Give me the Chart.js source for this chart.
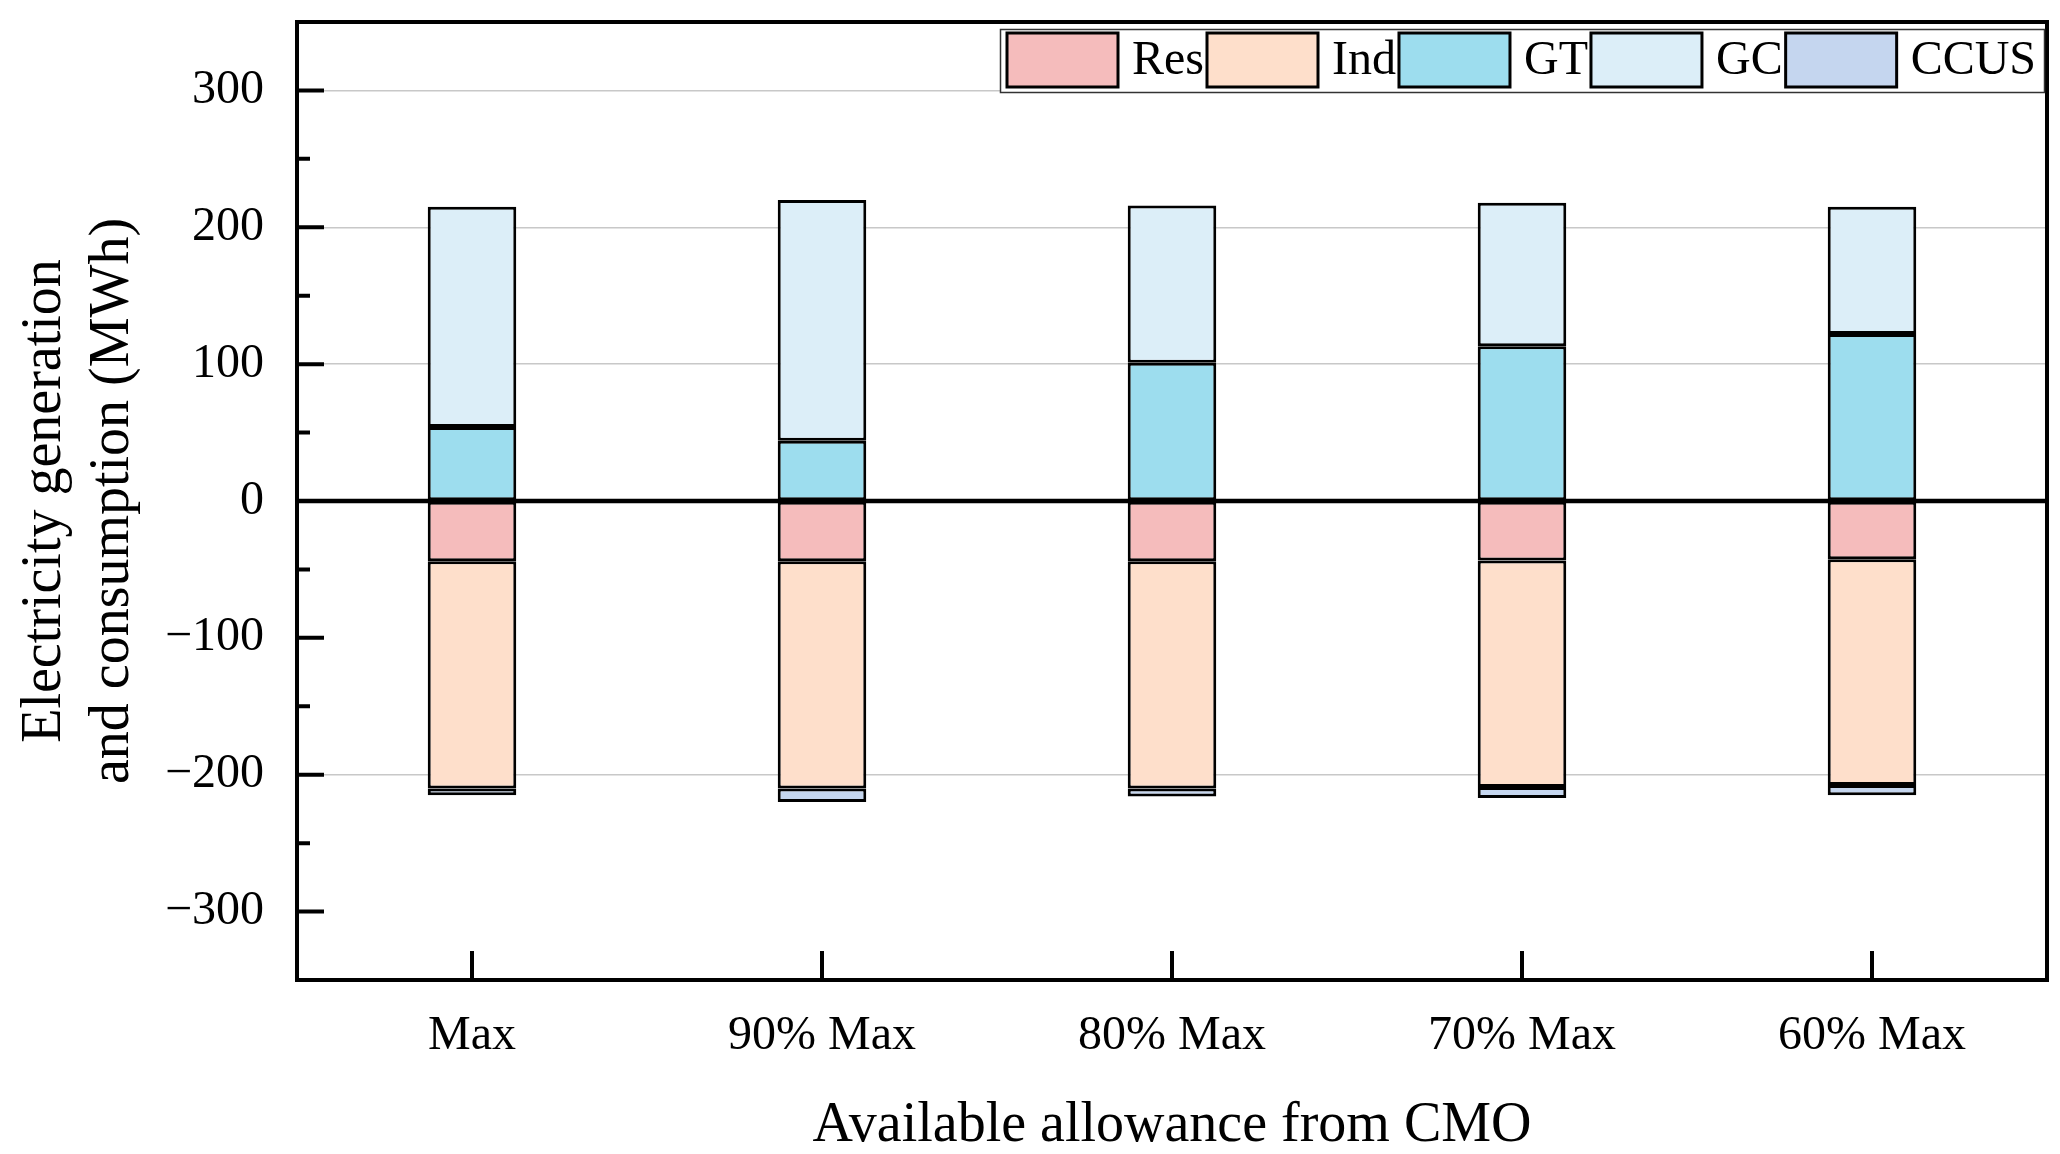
<html>
<head>
<script src="https://cdn.jsdelivr.net/npm/chart.js@4.4.0/dist/chart.umd.min.js"></script>
<style>body{margin:0;background:#fff}</style>
</head>
<body>
<canvas id="myChart" width="2060" height="1154"></canvas>
<script>
var labels = ['Max', '90% Max', '80% Max', '70% Max', '60% Max'];
var res  = [-44, -44, -44, -43.5, -42.5];
var ind  = [-166, -166, -166, -165.5, -165];
var gt   = [54, 44, 101, 113, 122];
var gc   = [161, 176, 115, 105, 93];
var ccus = [-5, -10, -6, -8, -7.5];
var yTicks = [-300, -200, -100, 0, 100, 200, 300];
var serif = '"Liberation Serif", "Times New Roman", serif';

function bar(label, data, color) {
  return {
    label: label, data: data, backgroundColor: color,
    borderColor: '#000', borderWidth: 3, borderSkipped: false,
    barPercentage: 0.253, categoryPercentage: 1
  };
}

// frame, inward ticks, zero line and framed legend
var decor = {
  id: 'decor',
  afterDatasetsDraw: function(chart) {
    var c = chart.ctx, a = chart.chartArea, y = chart.scales.y;
    var y0 = y.getPixelForValue(0);
    c.save();
    c.strokeStyle = '#000';
    c.lineWidth = 4.5;
    c.beginPath(); c.moveTo(a.left, y0); c.lineTo(a.right, y0); c.stroke();
    c.restore();
  },
  afterDraw: function(chart) {
    var c = chart.ctx, a = chart.chartArea, x = chart.scales.x, y = chart.scales.y;
    c.save();
    c.strokeStyle = '#000';
    c.lineWidth = 4;
    c.beginPath();
    x.ticks.forEach(function(t, i) {
      var px = x.getPixelForTick(i);
      c.moveTo(px, a.bottom); c.lineTo(px, a.bottom - 29);
    });
    for (var v = -350; v <= 350; v += 50) {
      var py = y.getPixelForValue(v);
      var len = (v % 100 === 0) ? 27 : 13;
      c.moveTo(a.left, py); c.lineTo(a.left + len, py);
    }
    c.stroke();
    c.strokeRect(a.left, a.top, a.right - a.left, a.bottom - a.top);

    // legend
    c.fillStyle = '#fff';
    c.fillRect(1000, 29, 1044, 63);
    c.lineWidth = 1.5;
    c.strokeStyle = '#333';
    c.strokeRect(1000.5, 29.5, 1044, 63);
    c.font = '48px ' + serif;
    c.textBaseline = 'middle';
    var lx = 1007;
    chart.data.datasets.forEach(function(ds) {
      c.fillStyle = ds.backgroundColor;
      c.fillRect(lx, 33, 111, 54);
      c.lineWidth = 3;
      c.strokeStyle = '#000';
      c.strokeRect(lx, 33, 111, 54);
      c.fillStyle = '#000';
      c.fillText(ds.label, lx + 125, 61);
      lx += 125 + c.measureText(ds.label).width + 3;
    });
    c.restore();
  }
};

var ctx = document.getElementById('myChart').getContext('2d');
var myChart = new Chart(ctx, {
  type: 'bar',
  data: {
    labels: labels,
    datasets: [
      bar('Res', res, '#F5BCBC'),
      bar('Ind', ind, '#FEDFCB'),
      bar('GT', gt, '#9DDDEE'),
      bar('GC', gc, '#DCEEF8'),
      bar('CCUS', ccus, '#C5D6EF')
    ]
  },
  options: {
    responsive: false,
    animation: false,
    devicePixelRatio: 1,
    layout: { padding: { left: 0, right: 13, top: 22, bottom: 0 } },
    plugins: { legend: { display: false }, tooltip: { enabled: false } },
    scales: {
      x: {
        stacked: true,
        offset: true,
        grid: { display: false, drawTicks: false },
        border: { display: false },
        ticks: { color: '#000', font: { family: serif, size: 48 }, padding: 28, maxRotation: 0 },
        title: {
          display: true, text: 'Available allowance from CMO', color: '#000',
          font: { family: serif, size: 56, lineHeight: 1 }, padding: { top: 0, bottom: 0 }
        },
        afterFit: function(s) { s.height = 174; s.paddingLeft = 0; s.paddingRight = 0; }
      },
      y: {
        stacked: true,
        min: -350,
        max: 350,
        afterBuildTicks: function(s) { s.ticks = yTicks.map(function(v) { return { value: v }; }); },
        grid: {
          drawTicks: false,
          lineWidth: 1.5,
          color: function(g) {
            var v = g.tick ? g.tick.value : 1;
            return (v === 0 || v === -100 || v === -300) ? 'rgba(0,0,0,0)' : '#c8c8c8';
          }
        },
        border: { display: false },
        ticks: {
          color: '#000', font: { family: serif, size: 48 }, padding: 33,
          callback: function(v) { return String(v).replace('-', '\u2212'); }
        },
        title: {
          display: true, text: ['Electricity generation', 'and consumption (MWh)'], color: '#000',
          font: { family: serif, size: 56, lineHeight: 1.2 }, padding: { top: 12, bottom: 0 }
        },
        afterFit: function(s) { s.width = 297; s.paddingTop = 0; s.paddingBottom = 0; }
      }
    }
  },
  plugins: [decor]
});
</script>
</body>
</html>
